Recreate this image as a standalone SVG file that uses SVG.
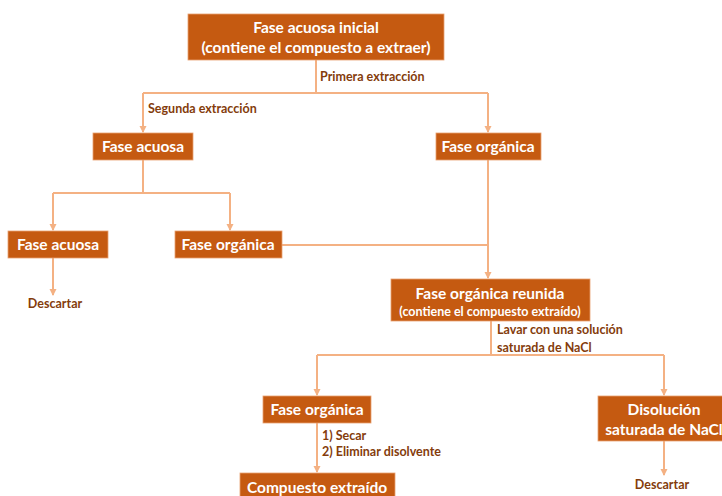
<svg xmlns="http://www.w3.org/2000/svg" width="722" height="496" viewBox="0 0 722 496">
<style>
.box{fill:#C55A11;stroke:#E8A070;stroke-width:0.8}
.bt{font-family:Lato,"Open Sans",sans-serif;font-weight:bold;font-size:15.5px;fill:#fff;text-anchor:middle}
.bs{font-family:Lato,"Open Sans",sans-serif;font-weight:bold;font-size:12.5px;fill:#fff;text-anchor:middle}
.lbl{font-family:Lato,"Open Sans",sans-serif;font-weight:bold;font-size:12.5px;fill:#843C0C}
.c{fill:none;stroke:#F4B183;stroke-width:2}
</style>
<defs>
<marker id="ah" markerWidth="8" markerHeight="8" refX="6" refY="4" orient="auto" markerUnits="userSpaceOnUse">
<path d="M0,0.5 L7,4 L0,7.5 Z" fill="#F4B183"/>
</marker>
</defs>
<rect width="722" height="496" fill="#fff"/>
<g id="connectors">
<path class="c" d="M316,60 V93"/>
<path class="c" d="M143,93 H488"/>
<path class="c" d="M143,93 V132" marker-end="url(#ah)"/>
<path class="c" d="M488,93 V132" marker-end="url(#ah)"/>
<path class="c" d="M143,160 V193"/>
<path class="c" d="M53,193 H230"/>
<path class="c" d="M53,193 V230" marker-end="url(#ah)"/>
<path class="c" d="M230,193 V230" marker-end="url(#ah)"/>
<path class="c" d="M53,258 V295" marker-end="url(#ah)"/>
<path class="c" d="M282,245 H488"/>
<path class="c" d="M488,160 V278" marker-end="url(#ah)"/>
<path class="c" d="M491,321 V355"/>
<path class="c" d="M317,355 H664"/>
<path class="c" d="M317,355 V395" marker-end="url(#ah)"/>
<path class="c" d="M664,355 V395" marker-end="url(#ah)"/>
<path class="c" d="M317,423 V472" marker-end="url(#ah)"/>
<path class="c" d="M664,441 V475" marker-end="url(#ah)"/>
</g>
<g id="labels">
<text class="lbl" x="320" y="81">Primera extracción</text>
<text class="lbl" x="148" y="113">Segunda extracción</text>
<text class="lbl" x="497" y="334">Lavar con una solución</text>
<text class="lbl" x="497" y="352">saturada de NaCl</text>
<text class="lbl" x="322" y="440">1) Secar</text>
<text class="lbl" x="322" y="456">2) Eliminar disolvente</text>
</g>
<g id="n-inicial">
<rect class="box" x="188" y="14" width="256" height="46"/>
<text class="bt" x="316" y="33">Fase acuosa inicial</text>
<text class="bt" x="316" y="53">(contiene el compuesto a extraer)</text>
</g>
<g id="n-acuosa1">
<rect class="box" x="93" y="133" width="100" height="27"/>
<text class="bt" x="143" y="152">Fase acuosa</text>
</g>
<g id="n-organica1">
<rect class="box" x="436" y="133" width="105" height="27"/>
<text class="bt" x="488" y="152">Fase orgánica</text>
</g>
<g id="n-acuosa2">
<rect class="box" x="8" y="231" width="100" height="27"/>
<text class="bt" x="58" y="250">Fase acuosa</text>
</g>
<g id="n-descartar1">
<text class="lbl" x="55" y="308" text-anchor="middle">Descartar</text>
</g>
<g id="n-organica2">
<rect class="box" x="175" y="231" width="107" height="27"/>
<text class="bt" x="228" y="250">Fase orgánica</text>
</g>
<g id="n-reunida">
<rect class="box" x="391" y="279" width="199" height="42"/>
<text class="bt" x="490" y="299">Fase orgánica reunida</text>
<text class="bs" x="490" y="316">(contiene el compuesto extraído)</text>
</g>
<g id="n-organica3">
<rect class="box" x="263" y="396" width="108" height="27"/>
<text class="bt" x="317" y="415">Fase orgánica</text>
</g>
<g id="n-nacl">
<rect class="box" x="598" y="396" width="130" height="45"/>
<text class="bt" x="664" y="415">Disolución</text>
<text class="bt" x="664" y="435">saturada de NaCl</text>
</g>
<g id="n-compuesto">
<rect class="box" x="240" y="473" width="155" height="30"/>
<text class="bt" x="317" y="493">Compuesto extraído</text>
</g>
<g id="n-descartar2">
<text class="lbl" x="662" y="489" text-anchor="middle">Descartar</text>
</g>
</svg>
